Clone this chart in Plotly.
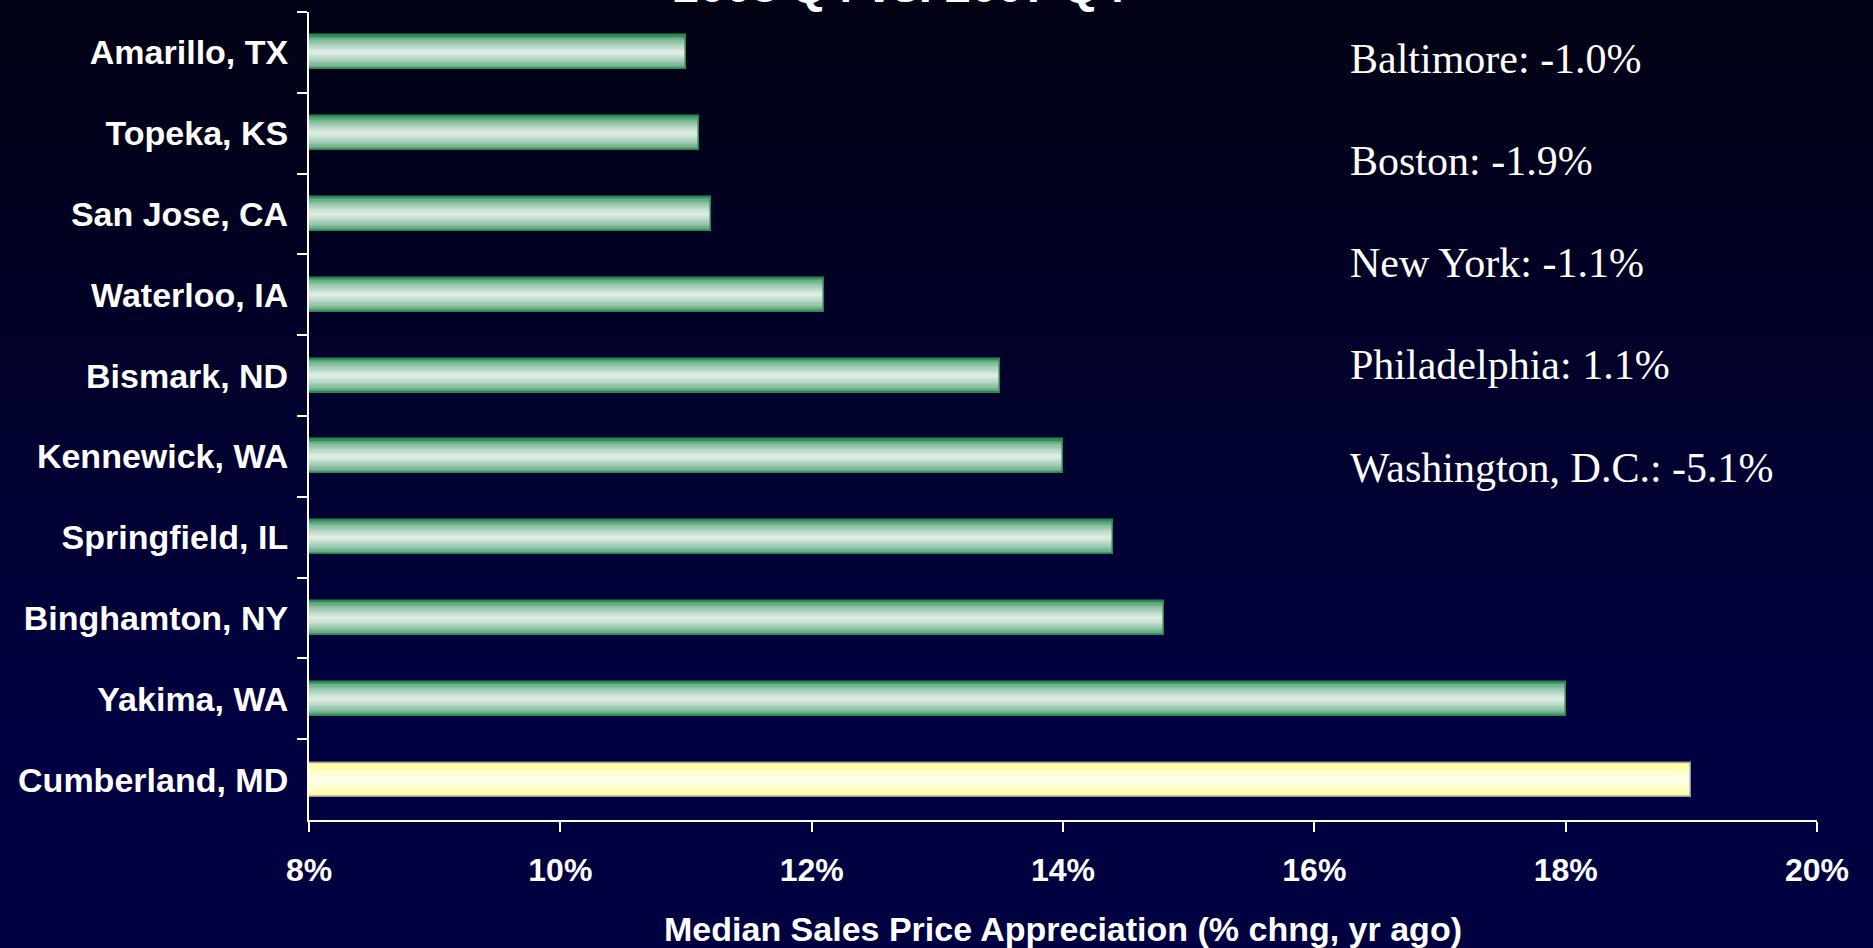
import plotly.graph_objects as go

# ---------------- data ----------------
cities = ["Amarillo, TX", "Topeka, KS", "San Jose, CA", "Waterloo, IA", "Bismark, ND",
          "Kennewick, WA", "Springfield, IL", "Binghamton, NY", "Yakima, WA", "Cumberland, MD"]
appreciation = [11.0, 11.1, 11.2, 12.1, 13.5, 14.0, 14.4, 14.8, 18.0, 19.0]
highlight_city = "Cumberland, MD"
x_tick_values = [8, 10, 12, 14, 16, 18, 20]
x_tick_labels = ["8%", "10%", "12%", "14%", "16%", "18%", "20%"]
metro_names = ["Baltimore", "Boston", "New York", "Philadelphia", "Washington, D.C."]
metro_changes = ["-1.0%", "-1.9%", "-1.1%", "1.1%", "-5.1%"]
title_text = "2008 Q4 vs. 2007 Q4"
x_title = "Median Sales Price Appreciation (% chng, yr ago)"

# ---------------- layout geometry ----------------
W, H = 1873, 948
L, R, T, B = 309, 56, 12, 128
PW, PH = W - L - R, H - T - B


def px_x(p):
    return (p - L) / PW


def px_y(p):
    return (H - B - p) / PH


def mix(c1, c2, f):
    return "rgb(%d,%d,%d)" % tuple(round(a + (b - a) * f) for a, b in zip(c1, c2))


fig = go.Figure()

# gradient bars built from stacked overlay layers
BAR_W = 0.42
N = 14
green_edge, green_mid = (46, 140, 88), (222, 237, 228)
yel_edge, yel_mid = (255, 250, 128), (255, 255, 234)
is_hi = [c == highlight_city for c in cities]
for k in range(N):
    t = k / (N - 1)
    f = t ** 0.6
    cols = [mix(yel_edge, yel_mid, f) if h else mix(green_edge, green_mid, f) for h in is_hi]
    fig.add_trace(go.Bar(
        y=cities, x=appreciation, orientation="h",
        width=BAR_W * (1 - k / N),
        marker=dict(color=cols, line=dict(width=0)),
        hoverinfo="skip", showlegend=False,
    ))
# outline
fig.add_trace(go.Bar(
    y=cities, x=appreciation, orientation="h", width=BAR_W,
    marker=dict(color="rgba(0,0,0,0)",
                line=dict(width=1.5, color=["rgb(150,150,170)" if h else "rgb(40,135,80)" for h in is_hi])),
    showlegend=False,
))

# background gradient bands
shapes = []
band = 8
for y0 in range(0, H, band):
    f = min(1.0, (y0 + band / 2) / 720)
    col = mix((2, 2, 20), (0, 0, 64), f)
    shapes.append(dict(type="rect", xref="paper", yref="paper",
                       x0=px_x(0), x1=px_x(W),
                       y0=px_y(y0 + band + 1), y1=px_y(y0),
                       fillcolor=col, line=dict(width=0), layer="below"))

annotations = []
# cut-off title at top
annotations.append(dict(text=title_text, xref="paper", yref="paper",
                        x=px_x(899), y=px_y(-15), xanchor="center", yanchor="middle",
                        showarrow=False,
                        font=dict(family="Arial, Liberation Sans", size=47, color="white", weight="bold")))
# metro notes
baselines = [73, 175, 277, 379, 482]
for name, chg, bl in zip(metro_names, metro_changes, baselines):
    annotations.append(dict(text=f"{name}: {chg}", xref="paper", yref="paper",
                            x=px_x(1348), y=px_y(bl - 14), xanchor="left", yanchor="middle",
                            showarrow=False,
                            font=dict(family="Times New Roman, Liberation Serif", size=42, color="white")))

fig.update_layout(
    width=W, height=H,
    margin=dict(l=L, r=R, t=T, b=B, pad=0),
    paper_bgcolor="rgb(0,0,40)", plot_bgcolor="rgba(0,0,0,0)",
    barmode="overlay", bargap=0,
    shapes=shapes, annotations=annotations,
    xaxis=dict(range=[8, 20], tickvals=x_tick_values, ticktext=x_tick_labels,
               showgrid=False, zeroline=False, showline=True, linecolor="white", linewidth=2,
               ticks="outside", ticklen=10, tickwidth=2, tickcolor="white",
               ticklabelstandoff=11, automargin=False,
               tickfont=dict(family="Liberation Sans Narrow, Arial Narrow, Liberation Sans", size=32,
                             color="white", weight="bold"),
               title=dict(text=x_title, standoff=30,
                          font=dict(family="Arial, Liberation Sans", size=34, color="white", weight="bold")),
               fixedrange=True),
    yaxis=dict(autorange="reversed", showgrid=False, zeroline=False,
               showline=True, linecolor="white", linewidth=2,
               ticks="outside", tickson="boundaries", ticklen=10, tickwidth=2, tickcolor="white",
               ticklabelstandoff=12,
               tickfont=dict(family="Arial, Liberation Sans", size=34, color="white", weight="bold"),
               automargin=False, fixedrange=True),
)

fig.write_html("out.html", config={"displayModeBar": False},
               post_script="document.body.style.margin='0';document.body.style.background='rgb(2,2,20)';"
                           "document.body.style.overflow='hidden';")
